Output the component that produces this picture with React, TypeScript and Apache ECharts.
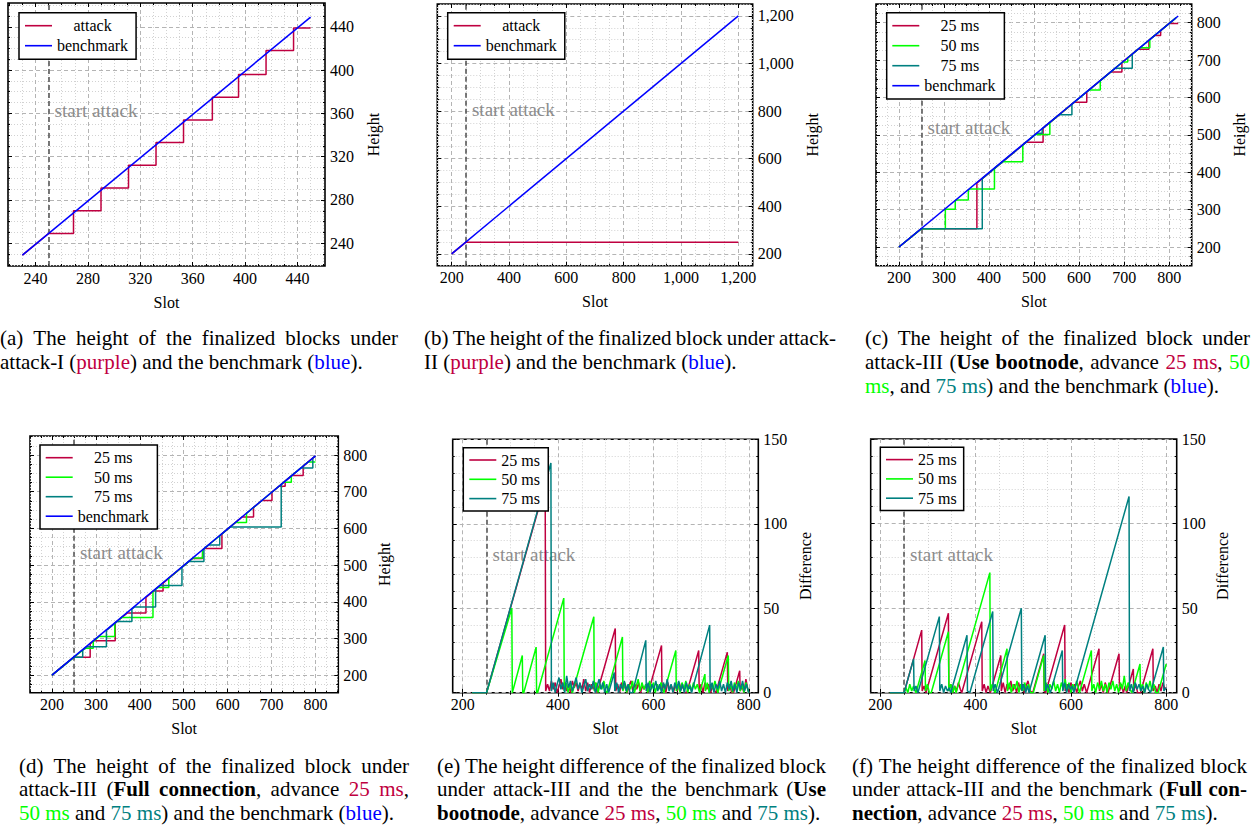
import { useEffect, useRef } from "react";
import * as echarts from "echarts";

const FONT = "Liberation Serif";
const PURPLE = "#BF0040";
const GREEN = "#00FF00";
const TEAL = "#008080";
const BLUE = "#0000FF";
const START_SLOT = 250;

// ---------- (a) attack-I ----------
const aBenchmark = [[230, 229], [450, 449]];
const aAttack = [[230, 229], [250, 249], [269, 249], [269, 270], [290, 270], [290, 291], [311, 291], [311, 312], [332, 312], [332, 333], [353, 333], [353, 354], [375, 354], [375, 375], [395, 375], [395, 396], [416, 396], [416, 418], [437, 418], [437, 439], [450, 439]];
const aXTicks = [240, 280, 320, 360, 400, 440];
const aYTicks = [240, 280, 320, 360, 400, 440];

// ---------- (b) attack-II ----------
const bBenchmark = [[200, 200], [1200, 1200]];
const bAttack = [[200, 200], [250, 249], [1200, 249]];
const bXTicks = [200, 400, 600, 800, 1000, 1200];
const bYTicks = [200, 400, 600, 800, 1000, 1200];

// ---------- (c) attack-III, use bootnode (height) ----------
const cBenchmark = [[200, 200], [820, 818]];
const c25 = [[200, 200], [250, 249], [373, 249], [373, 371], [482, 480], [520, 480], [520, 518], [589, 587], [617, 587], [617, 615], [670, 668], [695, 668], [695, 693], [731, 729], [755, 729], [755, 753], [768, 766], [781, 766], [781, 779], [800, 798], [820, 798]];
const c50 = [[200, 200], [250, 249], [303, 249], [303, 301], [325, 301], [325, 323], [328, 326], [354, 326], [354, 352], [357, 355], [412, 355], [412, 410], [430, 428], [475, 428], [475, 473], [503, 501], [535, 501], [535, 533], [622, 620], [647, 620], [647, 645], [697, 695], [708, 695], [708, 706], [735, 733], [757, 733], [757, 755], [815, 813]];
const c75 = [[200, 200], [250, 249], [385, 249], [385, 383], [506, 504], [518, 504], [518, 516], [556, 554], [584, 554], [584, 582], [680, 678], [718, 678], [718, 716], [815, 813]];
const cXTicks = [200, 300, 400, 500, 600, 700, 800];
const cYTicks = [200, 300, 400, 500, 600, 700, 800];

// ---------- (d) attack-III, full connection (height) ----------
const dBenchmark = [[200, 200], [800, 798]];
const d25 = [[200, 200], [250, 249], [287, 249], [287, 285], [296, 294], [344, 294], [344, 342], [371, 369], [414, 369], [414, 412], [431, 429], [453, 429], [453, 451], [520, 518], [543, 518], [543, 541], [547, 545], [587, 545], [587, 585], [633, 631], [659, 631], [659, 657], [678, 676], [701, 676], [701, 699], [717, 715], [731, 715], [731, 729], [746, 744], [772, 744], [772, 770], [800, 798]];
const d50 = [[200, 200], [275, 273], [294, 273], [294, 292], [307, 305], [343, 305], [343, 341], [359, 357], [430, 357], [430, 428], [441, 439], [466, 439], [466, 464], [521, 519], [543, 519], [543, 541], [618, 616], [643, 616], [643, 641], [728, 726], [745, 726], [745, 743], [783, 781], [800, 781]];
const d75 = [[200, 200], [250, 249], [270, 249], [270, 268], [279, 277], [324, 277], [324, 322], [348, 346], [382, 346], [382, 380], [388, 386], [436, 386], [436, 434], [446, 444], [496, 444], [496, 494], [512, 510], [546, 510], [546, 544], [557, 555], [582, 555], [582, 580], [606, 604], [722, 604], [722, 720], [767, 765], [794, 765], [794, 792], [800, 798]];
const dXTicks = [200, 300, 400, 500, 600, 700, 800];
const dYTicks = [200, 300, 400, 500, 600, 700, 800];

// ---------- (e) difference, use bootnode ----------
const e25 = [[220, 0], [250, 0], [373, 123], [374, 1], [378, 5], [382, 1], [386, 7], [390, 2], [394, 6], [398, 0], [402, 4], [406, 8], [410, 2], [414, 6], [418, 1], [422, 5], [426, 0], [430, 7], [434, 3], [438, 6], [442, 1], [446, 5], [450, 2], [454, 8], [458, 1], [462, 6], [466, 0], [470, 5], [474, 2], [478, 6], [482, 0], [520, 38], [521, 1], [525, 5], [529, 0], [533, 6], [537, 2], [541, 5], [545, 0], [549, 4], [553, 7], [557, 1], [561, 5], [565, 2], [569, 6], [573, 0], [577, 4], [581, 2], [585, 5], [589, 0], [617, 28], [618, 1], [622, 5], [626, 0], [630, 6], [634, 2], [638, 4], [642, 0], [646, 5], [650, 1], [654, 6], [658, 2], [662, 4], [666, 0], [670, 0], [695, 25], [696, 1], [700, 5], [704, 0], [708, 6], [712, 2], [716, 5], [720, 0], [724, 4], [728, 1], [731, 0], [755, 24], [756, 1], [760, 5], [764, 0], [768, 0], [781, 13], [782, 1], [786, 4], [790, 0], [794, 8], [798, 2], [800, 0]];
const e50 = [[220, 0], [250, 0], [303, 50], [304, 0], [325, 22], [326, 0], [328, 0], [354, 27], [355, 0], [357, 0], [412, 56], [413, 1], [417, 6], [421, 0], [425, 5], [430, 0], [475, 45], [476, 1], [480, 6], [484, 0], [488, 5], [492, 2], [496, 7], [500, 1], [503, 0], [535, 33], [536, 1], [540, 6], [544, 0], [548, 5], [552, 2], [556, 7], [560, 0], [564, 4], [568, 8], [572, 1], [576, 6], [580, 2], [584, 5], [588, 0], [592, 7], [596, 2], [600, 6], [604, 0], [608, 5], [612, 2], [616, 6], [622, 0], [647, 25], [648, 1], [652, 5], [656, 0], [660, 6], [664, 2], [668, 7], [672, 0], [676, 5], [680, 1], [684, 6], [688, 2], [692, 5], [697, 0], [708, 11], [709, 1], [713, 6], [717, 0], [721, 5], [725, 2], [729, 7], [735, 0], [757, 22], [758, 1], [762, 5], [766, 0], [770, 6], [774, 2], [778, 7], [782, 1], [786, 5], [790, 0], [794, 6], [798, 2], [800, 0]];
const e75 = [[220, 0], [250, 0], [385, 136], [386, 1], [390, 6], [394, 0], [398, 5], [402, 9], [406, 2], [410, 6], [414, 0], [418, 10], [422, 3], [426, 7], [430, 1], [434, 5], [438, 9], [442, 2], [446, 6], [450, 0], [454, 4], [458, 8], [462, 1], [466, 5], [470, 2], [474, 7], [478, 0], [482, 4], [486, 8], [490, 2], [494, 6], [498, 0], [502, 5], [506, 0], [518, 12], [519, 1], [523, 6], [527, 0], [531, 5], [535, 2], [539, 7], [543, 1], [547, 5], [551, 0], [556, 0], [584, 31], [585, 1], [589, 6], [593, 0], [597, 5], [601, 2], [605, 7], [609, 1], [613, 5], [617, 0], [621, 6], [625, 2], [629, 8], [633, 1], [637, 5], [641, 0], [645, 6], [649, 2], [653, 7], [657, 1], [661, 5], [665, 0], [669, 6], [673, 2], [677, 4], [680, 0], [718, 40], [719, 1], [723, 6], [727, 0], [731, 5], [735, 2], [739, 7], [743, 1], [747, 5], [751, 0], [755, 6], [759, 2], [763, 7], [767, 1], [771, 5], [775, 0], [779, 6], [783, 2], [787, 7], [791, 1], [795, 5], [800, 0]];
const eXTicks = [200, 400, 600, 800];
const eYTicks = [0, 50, 100, 150];

// ---------- (f) difference, full connection ----------
const f25 = [[220, 0], [250, 0], [287, 37], [288, 1], [292, 4], [296, 0], [343, 47], [344, 1], [348, 5], [352, 0], [356, 4], [360, 1], [364, 6], [368, 2], [371, 0], [413, 42], [414, 1], [418, 5], [422, 0], [426, 4], [431, 0], [453, 22], [454, 1], [458, 6], [462, 0], [466, 5], [470, 2], [474, 7], [478, 1], [482, 5], [486, 0], [490, 6], [494, 2], [498, 5], [502, 0], [506, 4], [510, 7], [514, 1], [520, 0], [543, 23], [544, 1], [547, 0], [587, 40], [588, 1], [592, 5], [596, 0], [600, 6], [604, 2], [608, 5], [612, 0], [616, 4], [620, 7], [624, 1], [628, 5], [633, 0], [659, 26], [660, 1], [664, 5], [668, 0], [672, 6], [678, 0], [701, 23], [702, 1], [706, 5], [710, 0], [714, 4], [717, 0], [731, 14], [732, 1], [736, 5], [740, 0], [746, 0], [772, 26], [773, 1], [777, 4], [781, 0], [785, 5], [789, 1], [793, 6], [797, 2], [800, 3]];
const f50 = [[220, 0], [250, 0], [254, 3], [258, 0], [262, 5], [266, 1], [270, 4], [275, 0], [294, 19], [295, 1], [299, 5], [303, 0], [307, 0], [343, 36], [344, 1], [348, 5], [352, 0], [356, 4], [359, 0], [430, 71], [431, 1], [435, 5], [441, 0], [466, 26], [467, 1], [471, 6], [475, 0], [479, 5], [483, 2], [487, 7], [491, 0], [495, 5], [499, 1], [503, 6], [507, 2], [511, 5], [515, 0], [521, 0], [543, 22], [544, 1], [548, 6], [552, 0], [556, 5], [560, 2], [564, 7], [568, 1], [572, 5], [576, 0], [580, 6], [584, 2], [588, 8], [592, 1], [596, 6], [600, 0], [604, 5], [608, 2], [612, 7], [618, 0], [643, 25], [644, 1], [648, 5], [652, 0], [656, 6], [660, 2], [664, 7], [668, 1], [672, 5], [676, 0], [680, 6], [684, 2], [688, 7], [692, 1], [696, 5], [700, 0], [704, 6], [708, 2], [712, 10], [716, 1], [720, 6], [724, 2], [728, 0], [745, 17], [746, 1], [750, 5], [754, 0], [758, 6], [762, 2], [766, 7], [770, 1], [774, 5], [778, 0], [783, 0], [800, 17]];
const f75 = [[220, 0], [250, 0], [270, 20], [271, 1], [275, 4], [279, 0], [324, 45], [325, 1], [329, 5], [333, 0], [337, 4], [341, 1], [345, 3], [348, 0], [382, 34], [383, 1], [388, 0], [436, 48], [437, 1], [441, 5], [446, 0], [496, 50], [497, 1], [501, 5], [505, 0], [509, 4], [512, 0], [546, 34], [547, 1], [551, 5], [557, 0], [582, 25], [583, 1], [587, 6], [591, 0], [595, 5], [599, 2], [603, 4], [606, 0], [722, 116], [723, 1], [727, 5], [731, 0], [735, 6], [739, 2], [743, 5], [747, 1], [751, 4], [755, 0], [759, 5], [763, 2], [767, 0], [794, 27], [795, 1], [800, 3]];
const fXTicks = [200, 400, 600, 800];
const fYTicks = [0, 50, 100, 150];

// ---------- captions ----------
const captionLines = [
  { text: "(a) The height of the finalized blocks under", x0: 0, x1: 398, y: 338 },
  { text: "attack-I ({p|purple}) and the benchmark ({b|blue}).", x0: 0, y: 362 },
  { text: "(b) The height of the finalized block under attack-", x0: 424, x1: 836, y: 338 },
  { text: "II ({p|purple}) and the benchmark ({b|blue}).", x0: 424, y: 362 },
  { text: "(c) The height of the finalized block under", x0: 865, x1: 1250, y: 338 },
  { text: "attack-III ({B|Use} {B|bootnode}, advance {p|25} {p|ms}, {g|50}", x0: 865, x1: 1250, y: 362 },
  { text: "{g|ms}, and {t|75} {t|ms}) and the benchmark ({b|blue}).", x0: 865, y: 386 },
  { text: "(d) The height of the finalized block under", x0: 19, x1: 409, y: 766 },
  { text: "attack-III ({B|Full} {B|connection}, advance {p|25} {p|ms},", x0: 19, x1: 409, y: 789 },
  { text: "{g|50} {g|ms} and {t|75} {t|ms}) and the benchmark ({b|blue}).", x0: 19, y: 813 },
  { text: "(e) The height difference of the finalized block", x0: 437, x1: 826, y: 766 },
  { text: "under attack-III and the the benchmark ({B|Use}", x0: 437, x1: 826, y: 789 },
  { text: "{B|bootnode}, advance {p|25} {p|ms}, {g|50} {g|ms} and {t|75} {t|ms}).", x0: 437, y: 813 },
  { text: "(f) The height difference of the finalized block", x0: 852, x1: 1247, y: 766 },
  { text: "under attack-III and the benchmark ({B|Full} {B|con-}", x0: 852, x1: 1247, y: 789 },
  { text: "{B|nection}, advance {p|25} {p|ms}, {g|50} {g|ms} and {t|75} {t|ms}).", x0: 852, y: 813 },
];

const CAP_SIZE = 21;
const TICK_SIZE = 16;

let measureCtx: CanvasRenderingContext2D | null = null;
function measure(text: string, size: number, bold = false): number {
  if (!measureCtx) measureCtx = document.createElement("canvas").getContext("2d");
  if (!measureCtx) return text.length * size * 0.45;
  measureCtx.font = `${bold ? "bold " : ""}${size}px "${FONT}"`;
  return measureCtx.measureText(text).width;
}

function parseWord(w: string): [string, string][] {
  const segs: [string, string][] = [];
  const re = /\{(\w+)\|([^}]*)\}/g;
  let last = 0;
  let m: RegExpExecArray | null;
  while ((m = re.exec(w))) {
    if (m.index > last) segs.push(["n", w.slice(last, m.index)]);
    segs.push([m[1], m[2]]);
    last = re.lastIndex;
  }
  if (last < w.length) segs.push(["n", w.slice(last)]);
  return segs;
}

function captionElement(line: { text: string; x0: number; x1?: number; y: number }) {
  const words = line.text.split(" ").map(parseWord);
  const wordWidths = words.map((segs) =>
    segs.reduce((acc, [s, t]) => acc + measure(t, CAP_SIZE, s === "B"), 0)
  );
  const total = wordWidths.reduce((a, b) => a + b, 0);
  let spaceW = measure(" ", CAP_SIZE);
  if (line.x1 !== undefined && words.length > 1) {
    spaceW = (line.x1 - line.x0 - total) / (words.length - 1);
  }
  const base = { fontSize: CAP_SIZE, fontFamily: FONT };
  const rich: any = {
    s: { ...base, width: spaceW },
    n: { ...base, fill: "#000" },
    B: { ...base, fill: "#000", fontWeight: "bold" },
    p: { ...base, fill: PURPLE },
    g: { ...base, fill: GREEN },
    t: { ...base, fill: TEAL },
    b: { ...base, fill: BLUE },
  };
  const text = words
    .map((segs) => segs.map(([s, t]) => `{${s}|${t}}`).join(""))
    .join("{s| }");
  return {
    type: "text",
    x: line.x0,
    y: line.y,
    silent: true,
    style: {
      text,
      rich,
      fontSize: CAP_SIZE,
      fontFamily: FONT,
      fill: "#000",
      align: "left",
      verticalAlign: "middle",
    },
  };
}

type SeriesDef = { name: string; color: string; data: number[][] };
type PanelDef = {
  box: [number, number, number, number];
  x: [number, number];
  y: [number, number];
  xTicks: number[];
  yTicks: number[];
  xMinor: number;
  yMinor: number;
  yName: string;
  yNameGap: number;
  thousands: boolean;
  startY: number;
  series: SeriesDef[];
  legend: { left: number; top: number; gap: number; pad: number[]; center: boolean };
};

const panels: PanelDef[] = [
  {
    box: [8, 3, 317, 263], x: [219, 461], y: [219, 462], xTicks: aXTicks, yTicks: aYTicks,
    xMinor: 10, yMinor: 10, yName: "Height", yNameGap: 40, thousands: false, startY: 363,
    series: [
      { name: "attack", color: PURPLE, data: aAttack },
      { name: "benchmark", color: BLUE, data: aBenchmark },
    ],
    legend: { left: 19, top: 12.7, gap: 4, pad: [5, 8, 5.6, 6], center: true },
  },
  {
    box: [437.3, 4, 315.4, 261.7], x: [150, 1250], y: [150, 1250], xTicks: bXTicks, yTicks: bYTicks,
    xMinor: 50, yMinor: 50, yName: "Height", yNameGap: 52, thousands: true, startY: 808,
    series: [
      { name: "attack", color: PURPLE, data: bAttack },
      { name: "benchmark", color: BLUE, data: bBenchmark },
    ],
    legend: { left: 447.7, top: 12.7, gap: 4, pad: [5, 8, 5.6, 6], center: true },
  },
  {
    box: [876, 4, 315.7, 261.7], x: [149, 850], y: [150, 850], xTicks: cXTicks, yTicks: cYTicks,
    xMinor: 25, yMinor: 25, yName: "Height", yNameGap: 40, thousands: false, startY: 519,
    series: [
      { name: "25 ms", color: PURPLE, data: c25 },
      { name: "50 ms", color: GREEN, data: c50 },
      { name: "75 ms", color: TEAL, data: c75 },
      { name: "benchmark", color: BLUE, data: cBenchmark },
    ],
    legend: { left: 886.7, top: 12.7, gap: 4, pad: [5, 9, 5.3, 5.6], center: true },
  },
  {
    box: [30, 436, 308.3, 256.7], x: [150, 852], y: [152, 852], xTicks: dXTicks, yTicks: dYTicks,
    xMinor: 25, yMinor: 25, yName: "Height", yNameGap: 38, thousands: false, startY: 533,
    series: [
      { name: "25 ms", color: PURPLE, data: d25 },
      { name: "50 ms", color: GREEN, data: d50 },
      { name: "75 ms", color: TEAL, data: d75 },
      { name: "benchmark", color: BLUE, data: dBenchmark },
    ],
    legend: { left: 40, top: 445, gap: 3.5, pad: [4.7, 8.6, 4.8, 5.7], center: true },
  },
  {
    box: [452.7, 439.3, 305.6, 253.4], x: [179, 820], y: [0, 150], xTicks: eXTicks, yTicks: eYTicks,
    xMinor: 50, yMinor: 10, yName: "Difference", yNameGap: 39, thousands: false, startY: 82,
    series: [
      { name: "25 ms", color: PURPLE, data: e25 },
      { name: "50 ms", color: GREEN, data: e50 },
      { name: "75 ms", color: TEAL, data: e75 },
    ],
    legend: { left: 463.3, top: 447.7, gap: 3.3, pad: [4.3, 8.3, 4.4, 6], center: false },
  },
  {
    box: [870.7, 439, 306, 253.7], x: [180, 822], y: [0, 150], xTicks: fXTicks, yTicks: fYTicks,
    xMinor: 50, yMinor: 10, yName: "Difference", yNameGap: 38, thousands: false, startY: 82,
    series: [
      { name: "25 ms", color: PURPLE, data: f25 },
      { name: "50 ms", color: GREEN, data: f50 },
      { name: "75 ms", color: TEAL, data: f75 },
    ],
    legend: { left: 880.3, top: 447.3, gap: 3.3, pad: [4.3, 7, 4.4, 5.7], center: false },
  },
];

function minorValues(min: number, max: number, step: number, majors: number[]): number[] {
  const out: number[] = [];
  for (let v = Math.ceil(min / step) * step; v <= max + 1e-9; v += step) {
    if (!majors.includes(v)) out.push(v);
  }
  return out;
}

function buildOption() {
  const grid: any[] = [];
  const xAxis: any[] = [];
  const yAxis: any[] = [];
  const series: any[] = [];
  const legend: any[] = [];
  const textBase = { fontFamily: FONT, fontSize: TICK_SIZE, color: "#000" };

  panels.forEach((p, i) => {
    grid.push({
      left: p.box[0], top: p.box[1], width: p.box[2], height: p.box[3],
      show: true, borderColor: "#000", borderWidth: 1.6, backgroundColor: "transparent",
    });
    const fmt = p.thousands
      ? (v: number) => Number(v).toLocaleString("en-US")
      : (v: number) => String(v);
    const xm = minorValues(p.x[0], p.x[1], p.xMinor, p.xTicks);
    const ym = minorValues(p.y[0], p.y[1], p.yMinor, p.yTicks);
    const majorSplit = { show: true, lineStyle: { color: "#b4b4b4", type: [4, 3], width: 1 } };
    const minorSplit = { show: true, lineStyle: { color: "#d2d2d2", type: [1, 2], width: 1 } };
    const tick = (vals: number[], len: number) => ({
      show: true, inside: true, length: len, customValues: vals, lineStyle: { color: "#000", width: 1 },
    });
    const bx = { type: "value", gridIndex: i, min: p.x[0], max: p.x[1], axisLine: { show: false } };
    xAxis.push(
      {
        ...bx, position: "bottom", axisTick: tick(p.xTicks, 4),
        axisLabel: { ...textBase, show: true, customValues: p.xTicks, formatter: fmt, margin: 4 },
        splitLine: majorSplit, name: "Slot", nameLocation: "middle", nameGap: 28,
        nameTextStyle: { ...textBase },
      },
      { ...bx, position: "bottom", axisTick: tick(xm, 2), axisLabel: { show: false }, splitLine: minorSplit },
      { ...bx, position: "top", axisTick: tick(p.xTicks, 4), axisLabel: { show: false }, splitLine: { show: false } },
      { ...bx, position: "top", axisTick: tick(xm, 2), axisLabel: { show: false }, splitLine: { show: false } }
    );
    const by = { type: "value", gridIndex: i, min: p.y[0], max: p.y[1], axisLine: { show: false } };
    yAxis.push(
      {
        ...by, position: "right", axisTick: tick(p.yTicks, 4),
        axisLabel: { ...textBase, show: true, customValues: p.yTicks, formatter: fmt, margin: 5 },
        splitLine: majorSplit, name: p.yName, nameLocation: "middle", nameGap: p.yNameGap,
        nameRotate: 90, nameTextStyle: { ...textBase },
      },
      { ...by, position: "right", axisTick: tick(ym, 2), axisLabel: { show: false }, splitLine: minorSplit },
      { ...by, position: "left", axisTick: tick(p.yTicks, 4), axisLabel: { show: false }, splitLine: { show: false } },
      { ...by, position: "left", axisTick: tick(ym, 2), axisLabel: { show: false }, splitLine: { show: false } }
    );

    p.series.forEach((s, k) => {
      const item: any = {
        type: "line",
        name: s.name,
        xAxisIndex: i * 4,
        yAxisIndex: i * 4,
        data: s.data,
        symbol: "none",
        showSymbol: false,
        color: s.color,
        lineStyle: { color: s.color, width: 1.5 },
        itemStyle: { color: s.color },
        silent: true,
        z: 10 + k,
      };
      if (k === 0) {
        item.markLine = {
          silent: true,
          symbol: "none",
          z: 3,
          label: { show: false },
          lineStyle: { color: "#4d4d4d", type: [5, 3], width: 1.5 },
          data: [{ xAxis: START_SLOT }],
        };
        item.markPoint = {
          silent: true,
          z: 3,
          symbol: "circle",
          symbolSize: 0,
          data: [{ coord: [START_SLOT, p.startY] }],
          label: {
            show: true,
            position: "right",
            distance: 6,
            formatter: "start attack",
            fontFamily: FONT,
            fontSize: 19,
            color: "#8c8c8c",
          },
        };
      }
      series.push(item);
    });

    const widths = p.series.map((s) => measure(s.name, TICK_SIZE));
    const maxW = Math.max(...widths);
    legend.push({
      orient: "vertical",
      left: p.legend.left,
      top: p.legend.top,
      icon: "rect",
      itemWidth: 27,
      itemHeight: 1.6,
      itemGap: p.legend.gap,
      padding: p.legend.pad,
      borderColor: "#000",
      borderWidth: 1.5,
      backgroundColor: "#fff",
      selectedMode: false,
      z: 20,
      textStyle: { ...textBase },
      data: p.series.map((s, k) => ({
        name: s.name,
        icon: "rect",
        textStyle: { padding: [0, 0, 0, p.legend.center ? (maxW - widths[k]) / 2 : 0] },
      })),
    });
  });

  return {
    animation: false,
    backgroundColor: "#fff",
    textStyle: { fontFamily: FONT },
    grid,
    xAxis,
    yAxis,
    series,
    legend,
    graphic: { elements: captionLines.map(captionElement) },
  };
}

export default function App() {
  const ref = useRef<HTMLDivElement>(null);
  useEffect(() => {
    if (!ref.current) return;
    const chart = echarts.init(ref.current, null, { renderer: "svg", width: 1252, height: 826 });
    chart.setOption(buildOption() as any);
    return () => chart.dispose();
  }, []);
  return (
    <div
      ref={ref}
      style={{ position: "absolute", left: 0, top: 0, width: 1252, height: 826, background: "#fff" }}
    />
  );
}
